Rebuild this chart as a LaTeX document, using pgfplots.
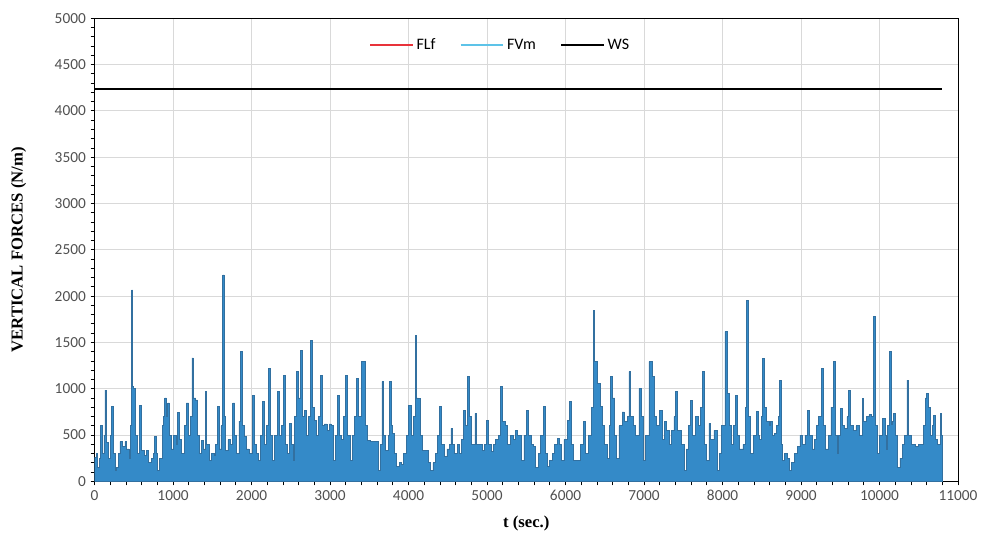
\documentclass[border=0pt]{standalone}
\usepackage{pgfplots}
\pgfplotsset{compat=1.18}
\usepackage{fontspec}
\setmainfont{Carlito}
\newfontfamily\labelfont{Liberation Serif}
\definecolor{flf}{RGB}{232,50,58}
\definecolor{fvm}{RGB}{93,195,232}
\definecolor{datafill}{RGB}{52,138,200}
\definecolor{datadraw}{RGB}{50,112,160}
\definecolor{tickgray}{RGB}{80,80,80}
\definecolor{gridgray}{RGB}{217,217,217}
\begin{document}
\begin{tikzpicture}
\begin{axis}[
  scale only axis, width=647.6pt, height=347.3pt,
  xmin=0, xmax=11000, ymin=0, ymax=5000,
  xtick={0,1000,...,11000}, ytick={0,500,...,5000},
  minor x tick num=4, minor y tick num=4,
  tick align=outside, major tick length=3pt, minor tick length=3pt,
  xtick pos=left, ytick pos=left,
  xmajorgrids, ymajorgrids,
  grid style={gridgray, line width=0.7pt},
  axis line style={black, line width=0.7pt},
  tick style={black, line width=0.6pt},
  scaled ticks=false,
  /pgf/number format/.cd, 1000 sep={}, assume math mode=true,
  /pgfplots/.cd,
  tick label style={font=\fontsize{11.5}{13}\selectfont, text=tickgray},
  xlabel={\labelfont\bfseries t (sec.)},
  ylabel={\labelfont\bfseries VERTICAL FORCES (N/m)},
  xlabel style={at={(axis description cs:0.5,-0.09)}, anchor=center, font=\fontsize{12.5}{14}\selectfont},
  ylabel style={at={(axis description cs:-0.088,0.5)}, anchor=center, font=\fontsize{12.5}{14}\selectfont},
  legend columns=3,
  legend style={draw=none, fill=none, at={(axis description cs:0.47,0.942)}, anchor=center, font=\fontsize{12}{14}\selectfont, /tikz/every even column/.append style={column sep=16pt}},
  legend image code/.code={\draw[#1] (0cm,0cm) -- (32pt,0cm);},
]
\addlegendimage{flf, line width=1.8pt}
\addlegendentry{FLf}
\addlegendimage{fvm, line width=1.8pt}
\addlegendentry{FVm}
\addlegendimage{black, line width=1.8pt}
\addlegendentry{WS}
\addplot[const plot, fill=datafill, draw=datadraw, line width=0.5pt, forget plot] coordinates {
(0,260) (20,300) (40,150) (60,250) (80,600) (100,300) (120,500) (133,986) (150,420) (175,250) (200,500) (218,806) (235,300) (260,122) (280,150) (300,300) (324,428) (350,380) (387,428) (410,350) (440,250) (460,600) (472,2066) (485,1022) (500,1000) (520,500) (545,300) (569,824) (590,330) (615,338) (640,280) (666,338) (690,200) (720,250) (750,300) (768,482) (785,300) (806,120) (830,250) (860,600) (880,700) (895,900) (915,700) (933,846) (955,500) (980,350) (1010,500) (1040,400) (1060,741) (1080,450) (1110,300) (1140,600) (1170,846) (1200,500) (1225,700) (1241,1332) (1260,900) (1288,880) (1310,500) (1340,300) (1360,446) (1380,350) (1411,968) (1430,400) (1466,230) (1490,300) (1520,280) (1545,400) (1563,806) (1585,350) (1610,600) (1634,2228) (1650,700) (1669,338) (1700,450) (1730,400) (1761,846) (1785,500) (1810,300) (1840,650) (1863,1400) (1885,600) (1914,482) (1940,350) (1970,300) (2008,932) (2030,400) (2060,300) (2084,230) (2110,500) (2135,860) (2160,400) (2190,600) (2218,1220) (2240,500) (2265,230) (2295,500) (2325,968) (2350,500) (2380,600) (2409,1148) (2430,400) (2460,300) (2485,626) (2505,400) (2530,230) (2550,700) (2570,1184) (2595,900) (2624,1418) (2645,700) (2671,770) (2700,500) (2725,700) (2751,1526) (2775,800) (2802,662) (2830,500) (2855,700) (2874,1148) (2900,600) (2925,620) (2960,550) (2990,620) (3013,600) (3040,230) (3070,500) (3099,932) (3120,500) (3150,450) (3175,700) (3195,1148) (3225,500) (3259,230) (3290,500) (3315,700) (3331,1112) (3360,700) (3395,1292) (3432,1292) (3455,600) (3480,440) (3510,428) (3547,428) (3585,428) (3620,120) (3640,400) (3661,1076) (3685,500) (3710,338) (3740,500) (3759,1076) (3780,600) (3800,520) (3825,300) (3851,160) (3880,200) (3910,180) (3940,300) (3970,500) (4003,824) (4030,500) (4060,700) (4084,1580) (4105,900) (4127,896) (4150,500) (4180,338) (4223,338) (4250,200) (4280,120) (4310,200) (4340,300) (4370,500) (4393,806) (4420,400) (4457,266) (4490,350) (4520,400) (4540,572) (4560,400) (4580,300) (4620,400) (4650,300) (4675,450) (4698,770) (4720,600) (4752,1130) (4775,700) (4800,400) (4845,734) (4870,400) (4900,400) (4940,330) (4970,400) (4993,662) (5020,400) (5050,320) (5080,400) (5110,450) (5150,500) (5175,1022) (5200,650) (5230,600) (5260,400) (5300,500) (5330,450) (5362,554) (5390,500) (5434,230) (5470,500) (5505,770) (5530,500) (5560,400) (5590,374) (5620,150) (5650,300) (5680,500) (5717,806) (5740,300) (5770,158) (5800,230) (5830,300) (5860,400) (5898,464) (5920,400) (5950,230) (5980,450) (6025,662) (6047,860) (6070,400) (6100,230) (6150,230) (6190,400) (6224,644) (6250,300) (6290,500) (6330,800) (6351,1850) (6373,1292) (6406,1058) (6449,806) (6470,600) (6500,400) (6530,250) (6555,600) (6576,1130) (6600,900) (6625,500) (6650,250) (6680,600) (6720,750) (6750,650) (6785,700) (6808,1184) (6830,700) (6860,600) (6890,500) (6935,1004) (6960,700) (6985,230) (7020,500) (7062,1292) (7104,1130) (7130,700) (7160,600) (7193,770) (7230,450) (7260,650) (7290,550) (7320,400) (7350,550) (7380,700) (7405,968) (7430,550) (7470,400) (7510,120) (7540,350) (7570,600) (7595,878) (7620,500) (7660,700) (7690,600) (7715,800) (7743,1184) (7770,400) (7800,230) (7827,626) (7850,450) (7890,550) (7935,120) (7960,300) (7990,600) (8010,600) (8030,1616) (8060,950) (8090,600) (8115,400) (8140,600) (8166,932) (8190,500) (8220,350) (8260,400) (8290,800) (8306,1958) (8325,700) (8355,300) (8390,500) (8429,752) (8450,500) (8475,450) (8495,700) (8513,1328) (8530,800) (8560,650) (8590,600) (8610,644) (8630,500) (8660,520) (8690,600) (8710,700) (8724,1094) (8745,400) (8760,230) (8790,300) (8820,250) (8850,120) (8880,200) (8915,300) (8953,374) (8985,500) (9020,400) (9050,500) (9080,770) (9110,500) (9140,350) (9170,450) (9200,600) (9225,700) (9257,1220) (9280,600) (9310,350) (9345,500) (9380,800) (9410,1292) (9440,500) (9460,300) (9480,500) (9502,788) (9525,600) (9555,570) (9585,700) (9609,986) (9630,600) (9665,550) (9700,600) (9740,500) (9777,896) (9800,650) (9830,700) (9865,720) (9900,700) (9926,1778) (9945,600) (9970,300) (10000,500) (10040,680) (10070,500) (10090,350) (10105,600) (10124,1400) (10145,620) (10165,650) (10180,730) (10200,500) (10230,150) (10260,250) (10290,400) (10320,500) (10349,1094) (10370,500) (10400,400) (10450,380) (10500,400) (10530,400) (10560,600) (10585,900) (10602,950) (10625,800) (10650,500) (10670,600) (10687,716) (10710,450) (10740,400) (10771,734) (10790,500) (10795,0)
} \closedcycle;
\addplot[black, line width=1.5pt, forget plot] coordinates {(0,4240) (10795,4240)};
\end{axis}
\pgfresetboundingbox
\path[use as bounding box] (-70.9pt,-41pt) rectangle (669.35pt,361pt);
\end{tikzpicture}
\end{document}
